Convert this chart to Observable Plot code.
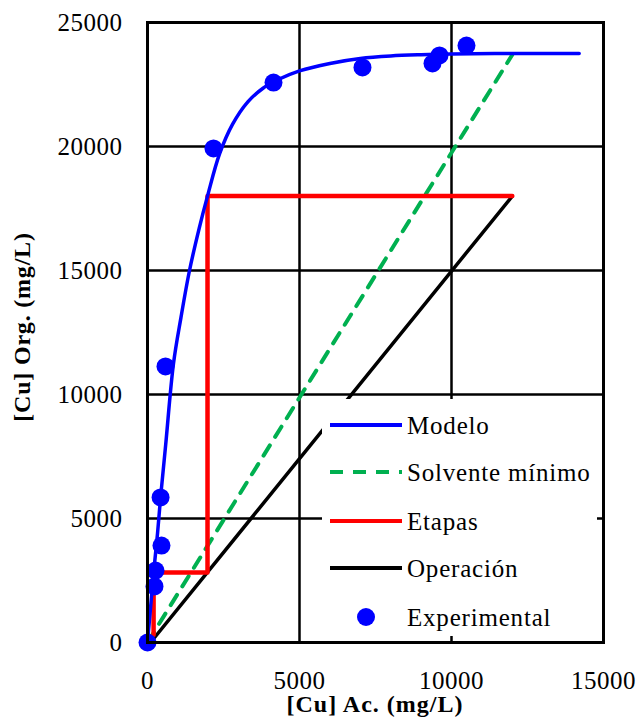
<!DOCTYPE html>
<html><head><meta charset="utf-8">
<script src="https://cdn.jsdelivr.net/npm/d3@7"></script>
<script src="https://cdn.jsdelivr.net/npm/@observablehq/plot@0.6"></script>
<style>body{margin:0;background:#fff}</style>
</head><body><div id="chart"></div>
<script>
const xTicks = [0, 5000, 10000, 15000];
const yTicks = [0, 5000, 10000, 15000, 20000, 25000];

const expX = [0, 230, 263, 460, 430, 592, 2171, 4145, 7072, 9375, 9605, 10493];
const expY = [0, 2260, 2900, 3910, 5850, 11130, 19920, 22580, 23190, 23350, 23670, 24070];

const modelX = [0, 100, 200, 330, 430, 600, 855, 1100, 1382, 1700, 1974, 2370, 2800, 3300, 3800, 4300, 5000, 6000, 7000, 8000, 9000, 10000, 12000, 14200];
const modelY = [0, 1400, 2800, 4400, 5850, 8000, 11250, 13100, 15000, 16700, 18000, 19700, 20900, 21800, 22350, 22700, 23050, 23350, 23550, 23650, 23700, 23730, 23750, 23750];

const solventeX = [0, 12000];
const solventeY = [0, 23700];

const operacionX = [100, 12000];
const operacionY = [0, 18000];

const etapasX = [12000, 1974, 1974, 200, 200];
const etapasY = [18000, 18000, 2823, 2823, 300];

const legendLabels = ["Modelo", "Solvente mínimo", "Etapas", "Operación", "Experimental"];
const xLabel = "[Cu] Ac. (mg/L)";
const yLabel = "[Cu] Org. (mg/L)";

const toRows = (xs, ys) => xs.map((x, i) => ({x, y: ys[i]}));
const FONT = "'Liberation Serif', 'Times New Roman', serif";

const plot = Plot.plot({
  width: 642, height: 719,
  marginLeft: 147, marginRight: 39, marginTop: 22, marginBottom: 77,
  style: {fontFamily: FONT, fontSize: "25px", background: "#fff", color: "#000"},
  x: {domain: [0, 15000], ticks: xTicks, tickFormat: d => String(d), label: null},
  y: {domain: [0, 25000], ticks: yTicks, tickFormat: d => String(d), label: null},
  marks: [
    Plot.gridX(xTicks, {stroke: "#000", strokeOpacity: 1, strokeWidth: 2.5}),
    Plot.gridY(yTicks, {stroke: "#000", strokeOpacity: 1, strokeWidth: 2.5}),
    Plot.axisX(xTicks, {tickSize: 0, tickPadding: 29, fontSize: 25, tickFormat: d => String(d), label: null}),
    Plot.axisY(yTicks, {tickSize: 0, tickPadding: 25, fontSize: 25, tickFormat: d => String(d), label: null}),
    Plot.line(toRows(solventeX, solventeY), {x: "x", y: "y", stroke: "#00b050", strokeWidth: 4, strokeDasharray: "12,10"}),
    Plot.line(toRows(operacionX, operacionY), {x: "x", y: "y", stroke: "#000", strokeWidth: 3.5}),
    Plot.line(toRows(etapasX, etapasY), {x: "x", y: "y", stroke: "#ff0000", strokeWidth: 4.5}),
    Plot.line(toRows(modelX, modelY), {x: "x", y: "y", stroke: "#0000ff", strokeWidth: 3.5, curve: "catmull-rom"}),
    Plot.dot(toRows(expX, expY), {x: "x", y: "y", r: 9, fill: "#0000ff", stroke: "none"}),
    Plot.frame({stroke: "#000", strokeWidth: 3})
  ]
});

document.getElementById("chart").appendChild(plot);
const svg = d3.select(plot);
svg.selectAll('[aria-label="x-axis tick label"] text, [aria-label="y-axis tick label"] text').style("letter-spacing", "0.5px");

// legend (white box inset from the frame, drawn on top)
const lg = svg.append("g").attr("font-family", FONT).attr("font-size", 25).attr("text-anchor", "start");
lg.append("rect").attr("x", 322).attr("y", 399).attr("width", 275).attr("height", 237).style("fill", "#fff").style("stroke", "none");
const rowY = [425, 472, 521, 568, 617];
const styles = [
  {stroke: "#0000ff", dash: null, w: 4},
  {stroke: "#00b050", dash: "13,10", w: 4},
  {stroke: "#ff0000", dash: null, w: 4},
  {stroke: "#000", dash: null, w: 4},
  null
];
legendLabels.forEach((lab, i) => {
  const s = styles[i];
  if (s) {
    lg.append("line").attr("x1", 330).attr("x2", 402).attr("y1", rowY[i]).attr("y2", rowY[i])
      .attr("stroke", s.stroke).attr("stroke-width", s.w).attr("stroke-dasharray", s.dash);
  } else {
    lg.append("circle").attr("cx", 366).attr("cy", rowY[i]).attr("r", 9).attr("fill", "#0000ff");
  }
  lg.append("text").attr("x", 407).attr("y", rowY[i]).attr("dy", "0.35em").attr("text-anchor", "start")
    .style("letter-spacing", "0.8px").text(lab);
});

// axis titles
svg.append("text").attr("x", 375).attr("y", 712).attr("text-anchor", "middle")
  .attr("font-family", FONT).attr("font-size", 24).attr("font-weight", "bold")
  .style("letter-spacing", "1px").text(xLabel);
svg.append("text").attr("transform", "translate(30,327) rotate(-90)").attr("text-anchor", "middle")
  .attr("font-family", FONT).attr("font-size", 24).attr("font-weight", "bold")
  .style("letter-spacing", "0.8px").text(yLabel);
</script>
</body></html>
